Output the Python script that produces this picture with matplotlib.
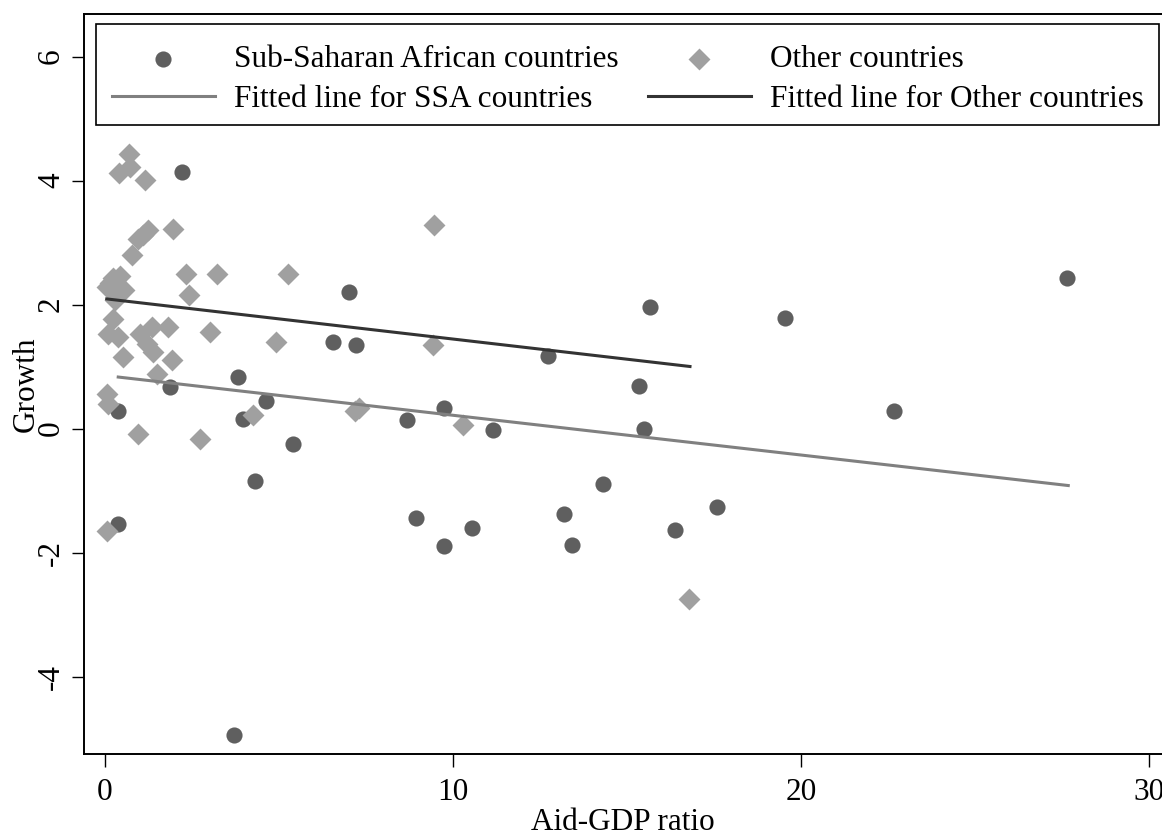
import numpy as np
import matplotlib
matplotlib.use('Agg')
import matplotlib.pyplot as plt
from matplotlib.patches import Rectangle

# aid-GDP ratio and growth, sub-saharan african countries
ssa_x = [2.20, 7.02, 6.56, 7.21, 1.87, 3.83, 0.38, 3.97, 4.62, 5.39, 4.31, 0.38,
         3.72, 15.66, 12.74, 15.34, 9.75, 8.69, 11.16, 15.50, 8.94, 9.75, 10.55,
         13.18, 13.43, 14.31, 16.38, 17.59, 19.55, 22.67, 27.65]
ssa_y = [4.14, 2.20, 1.39, 1.34, 0.67, 0.83, 0.29, 0.16, 0.45, -0.25, -0.85, -1.54,
         -4.94, 1.96, 1.17, 0.69, 0.33, 0.13, -0.03, 0.00, -1.44, -1.90, -1.60,
         -1.38, -1.88, -0.90, -1.64, -1.27, 1.79, 0.28, 2.42]

# other countries
oth_x = [0.69, 0.41, 0.72, 1.15, 1.96, 1.24, 1.08, 0.95, 0.77, 2.32, 3.23, 5.27,
         2.40, 0.06, 0.24, 0.43, 0.55, 0.30, 0.15, 0.24, 0.10, 0.38, 1.00, 1.34,
         1.82, 3.02, 1.20, 1.39, 1.92, 0.53, 1.48, 0.05, 0.10, 0.96, 2.73, 4.26,
         7.18, 7.30, 0.05, 4.91, 9.46, 9.42, 10.28, 16.79]
oth_y = [4.42, 4.12, 4.21, 4.01, 3.21, 3.20, 3.12, 3.05, 2.80, 2.50, 2.50, 2.49,
         2.16, 2.28, 2.42, 2.46, 2.24, 2.08, 2.35, 1.77, 1.53, 1.48, 1.53, 1.63,
         1.64, 1.55, 1.37, 1.23, 1.10, 1.15, 0.88, 0.56, 0.40, -0.09, -0.17, 0.22,
         0.28, 0.33, -1.66, 1.40, 3.29, 1.34, 0.05, -2.75]

# fitted lines (end points)
ssa_fit_x = [0.38, 27.68]
ssa_fit_y = [0.83, -0.92]
oth_fit_x = [0.05, 16.81]
oth_fit_y = [2.09, 1.00]

xticks = [0, 10, 20, 30]
yticks = [-4, -2, 0, 2, 4, 6]

plt.rcParams['font.family'] = ['Liberation Serif', 'DejaVu Serif']
fs = 22.5

W, H = 1162, 834
fig = plt.figure(figsize=(W / 100, H / 100), dpi=100)
# axes box in pixels: left 84, right 1170 (off canvas), top 14, bottom 754
axw, axh = 1170 - 84, 754 - 14
ax = fig.add_axes([84 / W, (H - 754) / H, axw / W, axh / H])

x0px, xpu = 105, 34.8
y0px, ypu = 428.5, 62.0
ax.set_xlim((84 - x0px) / xpu, (1170 - x0px) / xpu)
ax.set_ylim(-(754 - y0px) / ypu, (y0px - 14) / ypu)

sc1 = ax.scatter(ssa_x, ssa_y, s=135, marker='o', color='#5f5f5f', linewidths=0,
                 zorder=3, label='Sub-Saharan African countries')
sc2 = ax.scatter(oth_x, oth_y, s=125, marker='D', color='#a0a0a0', linewidths=0,
                 zorder=3, label='Other countries')
l1, = ax.plot(ssa_fit_x, ssa_fit_y, color='#808080', lw=2.2, zorder=4,
              label='Fitted line for SSA countries')
l2, = ax.plot(oth_fit_x, oth_fit_y, color='#333333', lw=2.2, zorder=4,
              label='Fitted line for Other countries')

ax.set_xticks(xticks)
ax.set_yticks(yticks)
ax.set_xticklabels([str(t) for t in xticks], fontsize=fs)
ax.set_yticklabels([str(t) for t in yticks], fontsize=fs, rotation=90, va='center')
ax.tick_params(axis='both', direction='out', length=9, width=1.0, color='black')
ax.tick_params(axis='x', pad=8)
ax.tick_params(axis='y', pad=4)
for s in ax.spines.values():
    s.set_linewidth(1.4)
    s.set_color('black')

ax.set_xlabel('Aid-GDP ratio', fontsize=fs)
ax.set_ylabel('Growth', fontsize=fs)
ax.xaxis.set_label_coords((623 - 84) / axw, -(808 - 754) / axh)
ax.yaxis.set_label_coords(-(84 - 41) / axw, 0.5)

# legend box: x 96..1159, y 24..125 px (frame drawn separately)
bx0 = (96 - 84) / axw
bw = (1159 - 96) / axw
by0 = (754 - 125) / axh
bh = (125 - 24) / axh
ax.add_patch(Rectangle((bx0, by0), bw, bh, transform=ax.transAxes, fill=True,
                       facecolor='white', edgecolor='black', lw=1.2, zorder=5))
shift = 5 / axh
leg = ax.legend([sc1, l1, sc2, l2],
                ['Sub-Saharan African countries', 'Fitted line for SSA countries',
                 'Other countries', 'Fitted line for Other countries'],
                ncol=2, loc='center', bbox_to_anchor=(bx0, by0 - shift, bw, bh),
                mode='expand', fontsize=fs, frameon=False,
                handlelength=3.3, handletextpad=0.6, labelspacing=0.36,
                borderpad=0.5, columnspacing=1.0, borderaxespad=0, scatterpoints=1)
leg.set_zorder(6)

fig.savefig('out.png', dpi=100)
